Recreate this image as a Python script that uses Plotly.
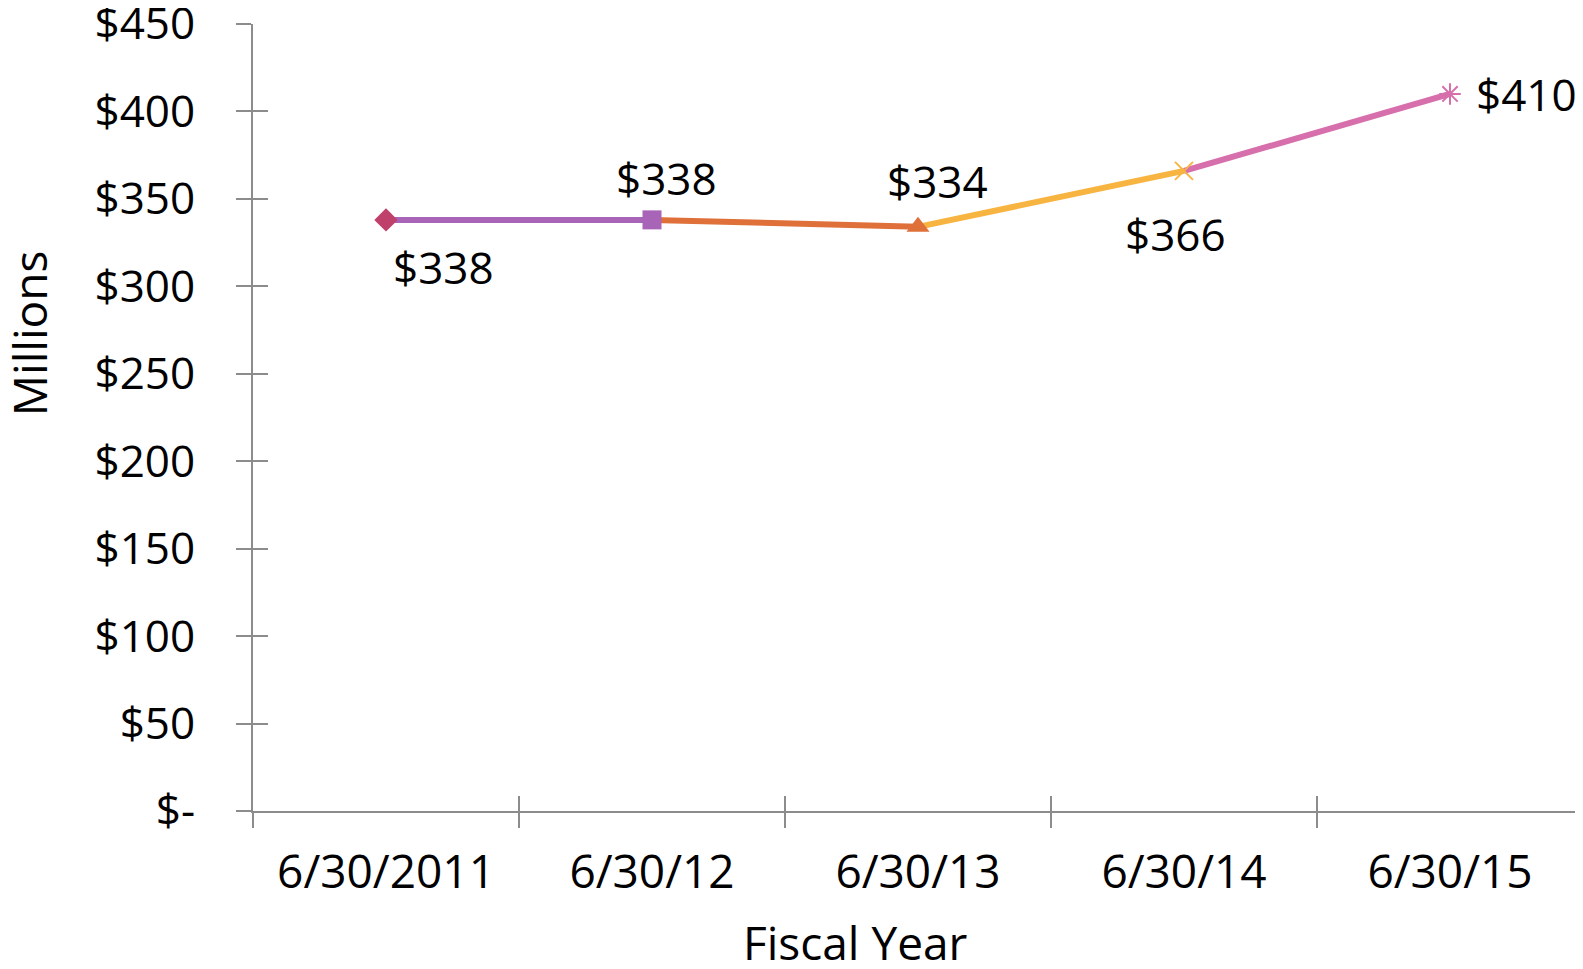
import plotly.graph_objects as go

categories = ["6/30/2011", "6/30/12", "6/30/13", "6/30/14", "6/30/15"]
values = [338, 338, 334, 366, 410]
labels = ["$338", "$338", "$334", "$366", "$410"]
ytick_vals = [0, 50, 100, 150, 200, 250, 300, 350, 400, 450]
ytick_text = ["$-", "$50", "$100", "$150", "$200", "$250", "$300", "$350", "$400", "$450"]

marker_colors = ["#BE406B", "#A865B8", "#E0703A", "#F8B440", "#D66FAC"]
marker_symbols = ["diamond", "square", "triangle-up", "x-thin-open", "asterisk-open"]
marker_sizes = [18, 19, 20, 18, 18]
label_shift = [(57, -47), (14, 42), (19, 46), (-9, -63), (76, 0)]

FONT = "Open Sans"
AX = "#8C8C8C"

fig = go.Figure()

# segments, each coloured like the marker at its end
for i in range(1, len(categories)):
    fig.add_trace(go.Scatter(
        x=categories[i - 1:i + 1], y=values[i - 1:i + 1], mode="lines",
        line=dict(color=marker_colors[i], width=6), showlegend=False, hoverinfo="skip"))

for i in range(len(categories)):
    sym = marker_symbols[i]
    if "open" in sym:
        mk = dict(symbol=sym, size=marker_sizes[i], color=marker_colors[i],
                  line=dict(color=marker_colors[i], width=2))
    else:
        mk = dict(symbol=sym, size=marker_sizes[i], color=marker_colors[i],
                  line=dict(width=0))
    fig.add_trace(go.Scatter(x=[categories[i]], y=[values[i]], mode="markers",
                             marker=mk, showlegend=False))
    fig.add_annotation(x=categories[i], y=values[i], xref="x", yref="y",
                       text=labels[i], showarrow=False,
                       xshift=label_shift[i][0], yshift=label_shift[i][1],
                       font=dict(family=FONT, size=44, color="black"))

# invisible trace for overlay axes (inside half of crossing ticks)
fig.add_trace(go.Scatter(x=[0], y=[0], xaxis="x2", yaxis="y2", mode="markers",
                         marker=dict(opacity=0), showlegend=False, hoverinfo="skip"))

fig.update_layout(
    width=1575, height=961,
    margin=dict(l=245, r=0, t=16, b=158),
    plot_bgcolor="white", paper_bgcolor="white",
    font=dict(family=FONT, size=44, color="black"),
    xaxis=dict(type="category", categoryorder="array", categoryarray=categories,
               range=[-0.5, 4.5], showline=True, linecolor=AX, linewidth=2,
               ticks="outside", tickson="boundaries", ticklen=15, tickcolor=AX,
               tickwidth=2, showgrid=False, zeroline=False, automargin=False,
               ticklabelstandoff=20, tickfont=dict(family=FONT, size=46)),
    yaxis=dict(range=[0, 450], tickvals=ytick_vals, ticktext=ytick_text,
               showline=True, linecolor=AX, linewidth=2, ticks="outside",
               ticklen=15, tickcolor=AX, tickwidth=2, showgrid=False,
               zeroline=False, ticklabelstandoff=32, ticklabeloverflow="allow",
               automargin=False, tickfont=dict(family=FONT, size=44)),
    xaxis2=dict(overlaying="x", range=[-0.5, 4.5], tickvals=[-0.5, 0.5, 1.5, 2.5, 3.5],
                ticks="inside", ticklen=15, tickcolor=AX, tickwidth=2, automargin=False,
                showticklabels=False, showgrid=False, zeroline=False, showline=False),
    yaxis2=dict(overlaying="y", range=[0, 450], tickvals=ytick_vals, automargin=False,
                ticks="inside", ticklen=15, tickcolor=AX, tickwidth=2,
                showticklabels=False, showgrid=False, zeroline=False, showline=False),
    annotations=list(fig.layout.annotations) + [
        dict(text="Fiscal Year", xref="paper", yref="paper", x=0.453, y=0,
             yshift=-131, showarrow=False, xanchor="center", yanchor="middle",
             font=dict(family=FONT, size=46)),
        dict(text="Millions", xref="paper", yref="paper", x=0, y=0.607,
             xshift=-224, showarrow=False, textangle=-90, xanchor="center",
             yanchor="middle", font=dict(family=FONT, size=46)),
    ],
)

fig.write_html("out.html")
